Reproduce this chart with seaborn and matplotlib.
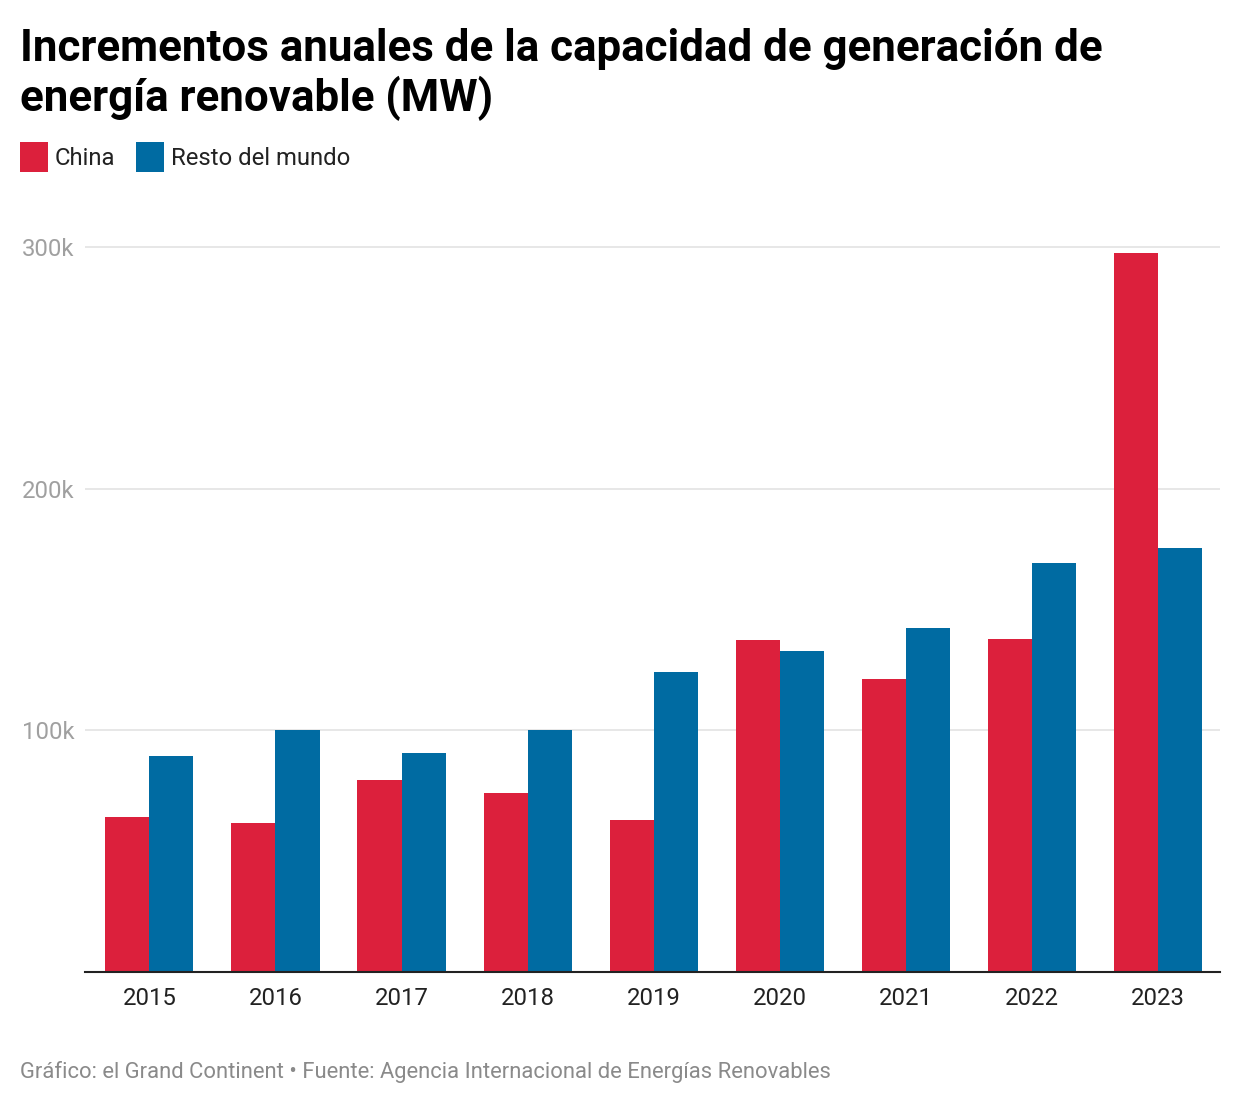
import matplotlib
matplotlib.use("Agg")
import matplotlib.pyplot as plt
import seaborn as sns
import pandas as pd

years = ["2015", "2016", "2017", "2018", "2019", "2020", "2021", "2022", "2023"]
china = [64000, 61600, 79400, 74100, 62900, 137400, 121200, 137800, 297500]
resto = [89400, 100100, 90600, 100100, 124100, 132800, 142300, 169200, 175400]
series_names = ["China", "Resto del mundo"]
colors = ["#DC203C", "#006BA2"]
ytick_vals = [100000, 200000, 300000]
ytick_labels = ["100k", "200k", "300k"]

title_lines = ["Incrementos anuales de la capacidad de generación de",
               "energía renovable (MW)"]
footer = "Gráfico: el Grand Continent • Fuente: Agencia Internacional de Energías Renovables"

df = pd.DataFrame({
    "year": years * 2,
    "value": china + resto,
    "serie": [series_names[0]] * len(years) + [series_names[1]] * len(years),
})

sns.set_theme(style="white")
plt.rcParams["font.family"] = ["Roboto", "DejaVu Sans"]

W, H = 1240, 1104
fig = plt.figure(figsize=(W / 100, H / 100), dpi=100)

def fx(px):
    return px / W

def fy(py):
    return 1 - py / H

ax_left, ax_right, ax_top, ax_bottom = 85, 1220, 240, 972
ax = fig.add_axes([fx(ax_left), fy(ax_bottom), fx(ax_right - ax_left), (ax_bottom - ax_top) / H])

sns.barplot(data=df, x="year", y="value", hue="serie", palette=colors,
            width=0.7, ax=ax, saturation=1, legend=True, linewidth=0)

ax.set_xlim(-0.51, len(years) - 0.51)
ymax = 300000 * (ax_bottom - ax_top) / (ax_bottom - 247)
ax.set_ylim(0, ymax)
ax.set_yticks(ytick_vals)
ax.set_yticklabels(ytick_labels)
ax.set_xlabel("")
ax.set_ylabel("")

for s in ["top", "right", "left"]:
    ax.spines[s].set_visible(False)
ax.spines["bottom"].set_color("#222222")
ax.spines["bottom"].set_linewidth(1.5)
ax.spines["bottom"].set_zorder(5)

ax.yaxis.grid(True, color="#e3e3e3", linewidth=1.2)
ax.set_axisbelow(True)
ax.tick_params(axis="y", length=0, pad=45.5, labelsize=17.2, labelcolor="#a0a0a0")
ax.tick_params(axis="x", length=0, pad=11, labelsize=17.2, labelcolor="#222222")
for lbl in ax.get_yticklabels():
    lbl.set_horizontalalignment("left")

# legend
handles, labels = ax.get_legend_handles_labels()
ax.get_legend().remove()
leg = fig.legend(handles, labels, loc="upper left",
                 bbox_to_anchor=(fx(20), fy(142)), ncol=2, frameon=False,
                 fontsize=17.2, handlelength=1.16, handleheight=1.56,
                 handletextpad=0.3, columnspacing=0.88, borderpad=0,
                 borderaxespad=0)
for t in leg.get_texts():
    t.set_color("#222222")
for p in leg.get_patches():
    p.set_linewidth(0)

# title
fig.text(fx(20), fy(61), title_lines[0], fontsize=31.6, fontweight="bold",
         color="#000000", ha="left", va="baseline")
fig.text(fx(20), fy(111), title_lines[1], fontsize=31.6, fontweight="bold",
         color="#000000", ha="left", va="baseline")

# footer
fig.text(fx(20), fy(1078), footer, fontsize=15.8, color="#8a8a8a",
         ha="left", va="baseline")

fig.savefig("out.png", dpi=100, facecolor="white")
